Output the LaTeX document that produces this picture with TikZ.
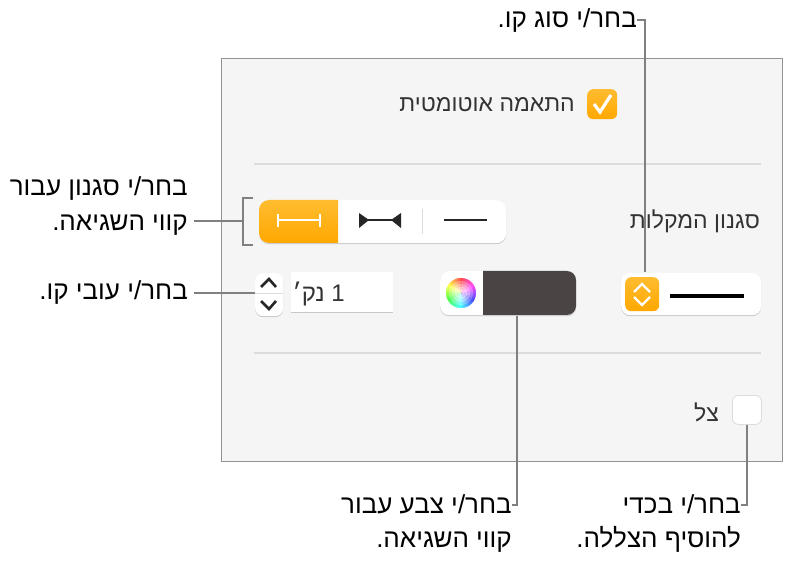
\documentclass[tikz,border=0pt]{standalone}
\usepackage{fontspec}
\setmainfont{Liberation Sans}
\newfontfamily\hebfont[Script=Hebrew]{Liberation Sans}
\TeXXeTstate=1
\usetikzlibrary{shadows}
\newcommand{\heb}[1]{{\hebfont\beginR #1\endR}}
\definecolor{panelgray}{HTML}{F5F5F5}
\definecolor{rulegray}{HTML}{DCDCDC}
\definecolor{calloutgray}{HTML}{808080}
\definecolor{wellgray}{HTML}{4A4444}
\definecolor{textgray}{HTML}{333333}
\definecolor{orangetop}{HTML}{FFBC30}
\definecolor{orangebot}{HTML}{FFA800}
\tikzset{callout/.style={draw=calloutgray,line width=2.4pt,line cap=butt}}
\tikzset{lbl/.style={font=\fontsize{26}{34.5}\selectfont,text=black,align=right,inner sep=0pt}}
\tikzset{uilbl/.style={font=\fontsize{23}{24}\selectfont,text=textgray,inner sep=0pt}}
\tikzset{widget/.style={fill=white,rounded corners=8pt,inner sep=0pt,anchor=north west,
  drop shadow={opacity=.38,shadow xshift=0pt,shadow yshift=-1pt}}}
\tikzset{orangebox/.style={top color=orangetop,bottom color=orangebot,draw=none}}
\begin{document}
\begin{tikzpicture}[x=1pt,y=-1pt]
\useasboundingbox (0,0) rectangle (798,561);
\node[anchor=north west,name=panel,draw=calloutgray!85,fill=panelgray,line width=.8pt,inner sep=0pt,minimum width=561pt,minimum height=403pt] at (221,58) {};
\node[anchor=east,uilbl,name=autolbl] at (575,105) {\heb{התאמה אוטומטית}};
\node[anchor=north west,orangebox,rounded corners=6pt,name=autobox,inner sep=0pt,minimum width=30pt,minimum height=30pt] at (587,89) {};
\draw[white,line width=3.2pt] (594,104) -- (600,112) -- (611,95);
\draw[rulegray,line width=1.2pt] (254,164) -- (761,164);
\draw[rulegray,line width=1.2pt] (254,353) -- (761,353);
\node[widget,name=seg,rounded corners=10pt,minimum width=247pt,minimum height=43pt] at (259,200) {};
\path[orangebox] (338,200) [rounded corners=10pt] -- (259,200) -- (259,243) [sharp corners] -- (338,243) -- cycle;
\draw[white,line width=1.5pt] (278,214) -- (278,227) (278,220) -- (320,220) (320,214) -- (320,227);
\draw[black!85,line width=1.5pt] (365,220) -- (395,220);
\fill[black!85] (359,213) -- (369,220) -- (359,228) -- cycle;
\fill[black!85] (401,213) -- (391,220) -- (401,228) -- cycle;
\draw[rulegray,line width=1pt] (422,209) -- (422,234);
\draw[black!85,line width=1.5pt] (444,220) -- (487,220);
\node[anchor=east,uilbl,name=stylelbl] at (760,221) {\heb{סגנון המקלות}};
\node[widget,name=stepper,minimum width=28pt,minimum height=43pt] at (255,273) {};
\draw[rulegray,line width=.8pt] (255,293) -- (283,293);
\draw[black!85,line width=2.6pt] (261,287) -- (269,279) -- (276,287);
\draw[black!85,line width=2.6pt] (261,301) -- (269,309) -- (276,301);
\node[widget,rounded corners=0pt,name=field,minimum width=102pt,minimum height=40pt] at (291,272) {};
\node[anchor=east,uilbl,text=textgray,name=fieldlbl,font=\fontsize{24}{24}\selectfont] at (345,294) {\heb{1 נק׳}};
\node[widget,name=well,rounded corners=9pt,minimum width=136pt,minimum height=44pt] at (440,271) {};
\path[fill=wellgray] (483,271) [rounded corners=9pt] -- (576,271) -- (576,315) [sharp corners] -- (483,315) -- cycle;
\begin{scope}[shift={(461,293)}]
\foreach \h in {0,10,...,350}{
  \definecolor{wheelc}{Hsb}{\h,1,1}
  \foreach \r/\m in {15/70,12/50,9/30,6/14,3/4}{
    \fill[wheelc!\m!white] (0,0) -- (-\h-90-6:\r) -- (-\h-90:\r) -- (-\h-90+6:\r) -- cycle;
  }
}
\end{scope}
\node[widget,name=linebox,rounded corners=9pt,minimum width=140pt,minimum height=42pt] at (621,273) {};
\node[anchor=north west,orangebox,rounded corners=6pt,name=linebtn,inner sep=0pt,minimum width=34pt,minimum height=34pt] at (625,277) {};
\draw[white,line width=2.2pt] (634,292) -- (642,284) -- (650,292);
\draw[white,line width=2.2pt] (634,297) -- (642,305) -- (650,297);
\draw[black,line width=4pt] (670,296) -- (744,296);
\node[anchor=north west,name=shadowbox,fill=white,draw=rulegray,line width=.8pt,rounded corners=6pt,inner sep=0pt,minimum width=29pt,minimum height=29pt] at (732,395) {};
\node[anchor=east,uilbl,name=shadowlbl] at (719,412) {\heb{צל}};
\node[anchor=east,lbl,name=typelbl] at (637,21) {\heb{בחר/י סוג קו.}};
\node[anchor=north east,lbl,name=barlbl] at (188,176.5) {\heb{בחר/י סגנון עבור}\\\heb{קווי השגיאה.}};
\node[anchor=east,lbl,name=widthlbl] at (188,293) {\heb{בחר/י עובי קו.}};
\node[anchor=north east,lbl,name=colorlbl] at (512,494) {\heb{בחר/י צבע עבור}\\\heb{קווי השגיאה.}};
\node[anchor=north east,lbl,name=addlbl] at (741,494) {\heb{בחר/י בכדי}\\\heb{להוסיף הצללה.}};
\coordinate (typeend) at (645,272);
\coordinate (typetick) at (637,20);
\coordinate (brk) at (243,221);
\coordinate (colorend) at (517,316);
\coordinate (colortick) at (512,505);
\coordinate (addend) at (747,425);
\coordinate (addtick) at (741,505);
\draw[callout] (typetick) -| (typeend);
\draw[callout] (253,198) -- (243,198) -- (243,245) -- (253,245);
\draw[callout] ([xshift=6pt]barlbl.east |- brk) to (brk);
\draw[callout] ([xshift=6pt]widthlbl.east) to (stepper.west |- widthlbl.east);
\draw[callout] (colorend) |- (colortick);
\draw[callout] (addend) |- (addtick);
\end{tikzpicture}
\end{document}
